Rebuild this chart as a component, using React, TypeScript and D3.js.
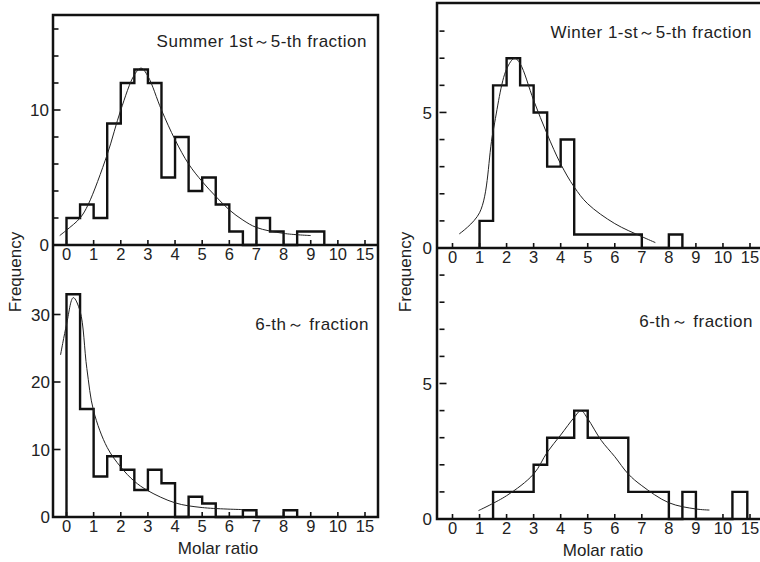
import React from 'react';
import * as d3 from 'd3';

// x positions are in "slot" units: 0..10 are molar ratio, slot 11 is labelled 15
const xTickLabels = ['0', '1', '2', '3', '4', '5', '6', '7', '8', '9', '10', '15'];

// Summer 1st~5-th fraction
const summerEdges = [0, 0.5, 1, 1.5, 2, 2.5, 3, 3.5, 4, 4.5, 5, 5.5, 6, 6.5, 7, 7.5, 8, 8.5, 9.5];
const summerCounts = [2, 3, 2, 9, 12, 13, 12, 5, 8, 4, 5, 3, 1, 0, 2, 1, 0, 1];
const summerCurve: [number, number][] = [
  [-0.25, 0.7], [0, 1.1], [0.5, 2.0], [0.8, 3.0], [1.5, 6.7], [2, 10], [2.5, 12.6], [2.75, 13.1],
  [3, 12.5], [3.5, 10], [4, 7.8], [4.5, 6], [5, 4.7], [5.5, 3.6], [6, 2.6], [6.5, 1.85],
  [7, 1.3], [8, 0.86], [9, 0.7],
];

// Summer 6-th~ fraction
const summer6Edges = [0, 0.5, 1, 1.5, 2, 2.5, 3, 3.5, 4, 4.5, 5, 5.5, 6.5, 7, 8, 8.5];
const summer6Counts = [33, 16, 6, 9, 7, 4, 7, 5, 0, 3, 2, 0, 1, 0, 1];
const summer6Curve: [number, number][] = [
  [-0.22, 24], [0, 28.5], [0.25, 32.5], [0.5, 30.5], [0.75, 22], [1, 15.7], [1.5, 10.3],
  [2, 7.4], [2.5, 5.3], [3, 3.9], [4, 2.1], [5, 1.4], [6.5, 1.1],
];

// Winter 1-st~5-th fraction
const winterEdges = [1, 1.5, 2, 2.5, 3, 3.5, 4, 4.5, 7, 8, 8.5];
const winterCounts = [1, 6, 7, 6, 5, 3, 4, 0.5, 0, 0.5];
const winterCurve: [number, number][] = [
  [0.25, 0.52], [1, 1.3], [1.5, 4.3], [2, 6.6], [2.3, 7.0], [2.5, 6.8], [3, 5.45], [3.5, 4.2],
  [4, 3.1], [4.5, 2.25], [5, 1.63], [6, 0.9], [7, 0.42], [7.5, 0.2],
];

// Winter 6-th~ fraction
const winter6Edges = [1.5, 3, 3.5, 4.5, 5, 6.5, 8, 8.5, 9, 10.35, 10.9];
const winter6Counts = [1, 2, 3, 4, 3, 1, 0, 1, 0, 1];
const winter6Curve: [number, number][] = [
  [0.96, 0.31], [2, 0.86], [3, 1.66], [3.5, 2.46], [4, 3.1], [4.5, 3.75], [4.75, 4.0],
  [5, 3.7], [5.5, 2.9], [6, 2.3], [6.5, 1.66], [7, 1.23], [8, 0.6], [9, 0.37], [9.5, 0.33],
];

const FONT = '"Liberation Sans", Arial, Helvetica, sans-serif';

type PanelProps = {
  x: d3.ScaleLinear<number, number>;
  y: d3.ScaleLinear<number, number>;
  edges: number[];
  counts: number[];
  curve: [number, number][];
  yTicks: number[];
  yLabels: number[];
  labelX: number;
  title: string;
  titleX: number;
  titleY: number;
};

const Panel = ({ x, y, edges, counts, curve, yTicks, yLabels, labelX, title, titleX, titleY }: PanelProps) => {
  const pts: [number, number][] = [[edges[0], 0]];
  counts.forEach((c, i) => {
    pts.push([edges[i], c]);
    pts.push([edges[i + 1], c]);
  });
  pts.push([edges[edges.length - 1], 0]);
  const step = d3.line<[number, number]>().x(d => x(d[0])).y(d => y(d[1]));
  const smooth = d3.line<[number, number]>().x(d => x(d[0])).y(d => y(d[1])).curve(d3.curveCatmullRom);
  const x0 = x.range()[0] - 13;
  const base = y(0);
  return (
    <g>
      <path d={step(pts) ?? ''} fill="none" stroke="#111" strokeWidth={2.4} strokeLinejoin="miter" />
      <path d={smooth(curve) ?? ''} fill="none" stroke="#222" strokeWidth={1} />
      {yTicks.map(t => (
        <line key={t} x1={x0} x2={x0 + (yLabels.includes(t) ? 7 : 5)} y1={y(t)} y2={y(t)} stroke="#111" strokeWidth={1.6} />
      ))}
      {yLabels.map(t => (
        <text key={t} x={labelX} y={y(t)} dy="0.36em" textAnchor="end" fontSize={17} fontFamily={FONT} fill="#222">{t}</text>
      ))}
      {xTickLabels.map((l, i) => (
        <g key={l}>
          <line x1={x(i)} x2={x(i)} y1={base} y2={base - 5} stroke="#111" strokeWidth={1.6} />
          <text x={x(i)} y={base + 15} textAnchor="middle" fontSize={16.5} fontFamily={FONT} fill="#222">{l}</text>
        </g>
      ))}
      <text x={titleX} y={titleY} textAnchor="end" fontSize={17} letterSpacing={0.5} fontFamily={FONT} fill="#222">{title}</text>
    </g>
  );
};

export default function App() {
  const xLeft = d3.scaleLinear().domain([0, 11]).range([66.5, 365]);
  const xRight = d3.scaleLinear().domain([0, 11]).range([452.5, 750]);
  const ySummer = d3.scaleLinear().domain([0, 17]).range([245, 15.5]);
  const ySummer6 = d3.scaleLinear().domain([0, 40]).range([517, 247]);
  const yWinter = d3.scaleLinear().domain([0, 9]).range([248, 4]);
  const yWinter6 = d3.scaleLinear().domain([0, 10]).range([519, 248]);

  return (
    <svg width={760} height={562} style={{ position: 'absolute', left: 0, top: 0, background: '#fff' }}>
      {/* frames */}
      <rect x={53} y={15} width={325} height={502} fill="none" stroke="#111" strokeWidth={2.5} />
      <line x1={53} x2={378} y1={245} y2={245} stroke="#111" strokeWidth={2.5} />
      <rect x={437} y={3} width={330} height={516} fill="none" stroke="#111" strokeWidth={2.5} />
      <line x1={437} x2={767} y1={248} y2={248} stroke="#111" strokeWidth={2.5} />

      <Panel x={xLeft} y={ySummer} edges={summerEdges} counts={summerCounts} curve={summerCurve}
        yTicks={d3.range(0, 17, 2)} yLabels={[0, 10]} labelX={49}
        title="Summer 1st～5-th fraction" titleX={367} titleY={47} />
      <Panel x={xLeft} y={ySummer6} edges={summer6Edges} counts={summer6Counts} curve={summer6Curve}
        yTicks={[0, 10, 20, 30]} yLabels={[0, 10, 20, 30]} labelX={50}
        title="6-th～ fraction" titleX={369} titleY={330} />
      <Panel x={xRight} y={yWinter} edges={winterEdges} counts={winterCounts} curve={winterCurve}
        yTicks={d3.range(0, 9)} yLabels={[0, 5]} labelX={432}
        title="Winter 1-st～5-th fraction" titleX={752} titleY={38} />
      <Panel x={xRight} y={yWinter6} edges={winter6Edges} counts={winter6Counts} curve={winter6Curve}
        yTicks={d3.range(0, 10)} yLabels={[0, 5]} labelX={432}
        title="6-th～ fraction" titleX={753} titleY={327} />

      <text transform="translate(21,272) rotate(-90)" textAnchor="middle" fontSize={17} fontFamily={FONT} fill="#222">Frequency</text>
      <text transform="translate(411,272) rotate(-90)" textAnchor="middle" fontSize={17} fontFamily={FONT} fill="#222">Frequency</text>
      <text x={218} y={554} textAnchor="middle" fontSize={17} fontFamily={FONT} fill="#222">Molar ratio</text>
      <text x={603} y={556} textAnchor="middle" fontSize={17} fontFamily={FONT} fill="#222">Molar ratio</text>
    </svg>
  );
}
